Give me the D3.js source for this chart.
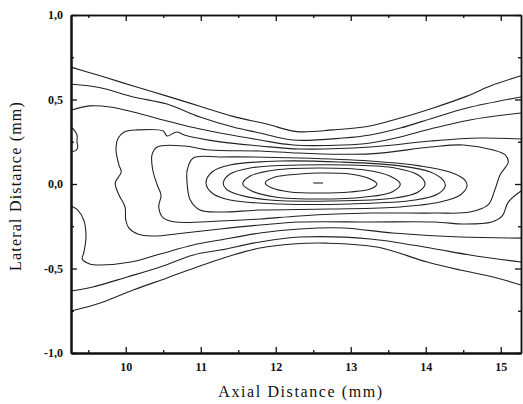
<!DOCTYPE html>
<html>
<head>
<meta charset="utf-8">
<script src="https://cdn.jsdelivr.net/npm/d3@7"></script>
<style>
  body { margin: 0; background: #fff; }
  text { font-family: "Liberation Serif", "Times New Roman", serif; fill: #111; }
</style>
</head>
<body>
<div id="chart"></div>
<script>
// axes
const xDomain = [9.27, 15.27];
const yDomain = [-1, 1];
const xTicks = [10, 11, 12, 13, 14, 15];
const xMinor = [9.5, 10.5, 11.5, 12.5, 13.5, 14.5];
const yTicks = [-1, -0.5, 0, 0.5, 1];
const yMinor = [-0.75, -0.25, 0.25, 0.75];

// contour lines, [axial mm, lateral mm]
const top1 = [[9.28,0.69],[9.66,0.64],[10.10,0.58],[10.55,0.52],[10.99,0.46],[11.43,0.40],[11.88,0.355],[12.28,0.31],[12.76,0.32],[13.22,0.34],[13.66,0.39],[14.10,0.45],[14.55,0.52],[14.86,0.58],[15.27,0.64]];
const top2 = [[9.28,0.59],[9.66,0.57],[10.10,0.515],[10.55,0.473],[10.99,0.396],[11.43,0.337],[11.79,0.302],[12.23,0.26],[12.90,0.272],[13.26,0.29],[13.66,0.331],[14.10,0.391],[14.55,0.45],[15.27,0.515]];
const top3 = [[9.28,0.438],[9.52,0.462],[9.79,0.456],[10.10,0.426],[10.55,0.373],[10.99,0.325],[11.79,0.26],[12.23,0.231],[12.90,0.231],[13.26,0.243],[13.66,0.278],[14.06,0.325],[14.59,0.379],[15.27,0.42]];
const edgeBit = [[9.27,0.337],[9.31,0.32],[9.35,0.29],[9.35,0.249],[9.36,0.219],[9.34,0.201],[9.27,0.189]];
const outer = [[15.27,0.266],[14.72,0.272],[14.06,0.254],[13.26,0.219],[12.32,0.207],[11.79,0.225],[11.26,0.249],[10.78,0.29],[10.68,0.308],[10.55,0.284],[10.50,0.314],[10.15,0.32],[9.98,0.308],[9.90,0.272],[9.87,0.201],[9.91,0.112],[9.94,0.071],[9.86,0.006],[9.91,-0.065],[9.99,-0.136],[10.00,-0.213],[10.04,-0.26],[10.16,-0.296],[10.35,-0.308],[10.78,-0.29],[11.26,-0.266],[11.79,-0.243],[12.32,-0.225],[13.26,-0.225],[14.12,-0.225],[14.52,-0.237],[14.88,-0.225],[15.02,-0.189],[15.10,-0.107],[15.27,-0.041]];
const ring2 = [[10.78,0.225],[10.42,0.219],[10.35,0.172],[10.36,0.083],[10.42,-0.006],[10.47,-0.065],[10.44,-0.136],[10.50,-0.201],[10.66,-0.225],[11.26,-0.219],[11.79,-0.207],[12.32,-0.189],[13.26,-0.172],[14.12,-0.172],[14.59,-0.166],[14.83,-0.124],[14.92,-0.036],[14.99,0.053],[15.10,0.13],[15.06,0.172],[14.90,0.201],[14.50,0.231],[14.06,0.219],[13.26,0.178],[12.32,0.183],[11.79,0.195],[11.12,0.201]];
const ring3 = [[10.82,0.083],[10.90,0.154],[11.26,0.16],[12.32,0.154],[13.26,0.136],[13.92,0.107],[14.32,0.071],[14.52,0.024],[14.55,-0.012],[14.46,-0.065],[14.19,-0.107],[13.66,-0.136],[12.72,-0.148],[11.79,-0.154],[11.26,-0.166],[10.99,-0.154],[10.86,-0.095],[10.82,-0.006]];
const ring4 = [[11.07,0.006],[11.15,0.071],[11.39,0.112],[12.06,0.136],[12.86,0.13],[13.66,0.107],[14.06,0.071],[14.23,0.024],[14.26,-0.012],[14.16,-0.059],[13.86,-0.095],[12.99,-0.118],[12.06,-0.118],[11.39,-0.095],[11.15,-0.053]];
const ring5 = [[11.30,0.006],[11.39,0.059],[11.66,0.095],[12.32,0.112],[12.99,0.112],[13.59,0.095],[13.90,0.053],[13.99,0],[13.90,-0.047],[13.59,-0.083],[12.72,-0.101],[11.92,-0.095],[11.52,-0.065],[11.34,-0.030]];
const ring6 = [[11.56,0],[11.66,0.047],[11.99,0.083],[12.59,0.095],[13.19,0.083],[13.52,0.047],[13.66,0],[13.55,-0.047],[13.19,-0.077],[12.59,-0.089],[11.99,-0.077],[11.68,-0.041]];
const ring7 = [[11.86,0.006],[11.99,0.041],[12.32,0.059],[12.59,0.065],[12.99,0.059],[13.26,0.03],[13.35,0],[13.26,-0.03],[12.99,-0.047],[12.59,-0.053],[12.19,-0.047],[11.95,-0.024]];
const peak = [[12.50,0.006],[12.63,0.006]];
const bot3 = [[9.27,-0.13],[9.36,-0.154],[9.44,-0.213],[9.47,-0.314],[9.44,-0.408],[9.42,-0.444],[9.52,-0.473],[9.66,-0.479],[10.07,-0.462],[10.46,-0.414],[10.90,-0.361],[11.26,-0.331],[11.79,-0.29],[12.32,-0.266],[12.90,-0.26],[13.56,-0.29],[14.46,-0.314],[15.27,-0.32]];
const bot2 = [[9.27,-0.633],[9.56,-0.609],[10.02,-0.55],[10.46,-0.491],[10.90,-0.42],[11.26,-0.391],[11.79,-0.343],[12.32,-0.314],[13.26,-0.325],[14.06,-0.379],[14.59,-0.42],[15.27,-0.462]];
const bot1 = [[9.27,-0.751],[9.66,-0.704],[10.10,-0.627],[10.55,-0.556],[10.99,-0.485],[11.43,-0.42],[11.79,-0.379],[12.23,-0.355],[12.68,-0.35],[13.35,-0.373],[14.02,-0.462],[14.46,-0.509],[14.90,-0.55],[15.27,-0.598]];

const openLines = [top1, top2, top3, edgeBit, outer, bot3, bot2, bot1, peak];
const closedLines = [ring2, ring3, ring4, ring5, ring6, ring7];

const width = 523, height = 404;
const margin = {top: 15, right: 2, bottom: 51, left: 71};

const svg = d3.select("#chart").append("svg")
  .attr("width", width)
  .attr("height", height)
  .style("display", "block");

svg.append("rect").attr("width", width).attr("height", height).attr("fill", "#fff");

const x = d3.scaleLinear().domain(xDomain).range([margin.left, width - margin.right]);
const y = d3.scaleLinear().domain(yDomain).range([height - margin.bottom, margin.top]);

// comma decimals like the original
const locale = d3.formatLocale({decimal: ",", thousands: ".", grouping: [3], currency: ["", ""], minus: "-"});
const fmt = locale.format(".1f");

// contours
const g = svg.append("g")
  .attr("fill", "none")
  .attr("stroke", "#222")
  .attr("stroke-width", 1.1)
  .attr("stroke-linejoin", "round");

const openLine = d3.line().x(d => x(d[0])).y(d => y(d[1])).curve(d3.curveCatmullRom.alpha(0.5));
const closedLine = d3.line().x(d => x(d[0])).y(d => y(d[1])).curve(d3.curveCatmullRomClosed.alpha(0.5));

g.selectAll("path.open").data(openLines).join("path").attr("class", "open").attr("d", openLine);
g.selectAll("path.closed").data(closedLines).join("path").attr("class", "closed").attr("d", closedLine);

// axes, ticks inside
const axisGroup = svg.append("g");
function addAxis(axis, transform, width) {
  const a = axisGroup.append("g").attr("transform", transform).call(axis);
  a.select(".domain").attr("stroke", "#111").attr("stroke-width", width);
  a.selectAll(".tick line").attr("stroke", "#111").attr("stroke-width", 1.3);
  return a;
}

addAxis(d3.axisBottom(x).tickValues(xTicks).tickSize(-6).tickSizeOuter(0).tickPadding(9).tickFormat(d3.format("d")),
  `translate(0,${y(-1)})`, 2);
addAxis(d3.axisBottom(x).tickValues(xMinor).tickSize(-3).tickSizeOuter(0).tickFormat(""), `translate(0,${y(-1)})`, 2);
addAxis(d3.axisTop(x).tickValues(xTicks).tickSize(-6).tickSizeOuter(0).tickFormat(""), `translate(0,${y(1)})`, 1.5);
addAxis(d3.axisTop(x).tickValues(xMinor).tickSize(-3).tickSizeOuter(0).tickFormat(""), `translate(0,${y(1)})`, 1.5);

addAxis(d3.axisLeft(y).tickValues(yTicks).tickSize(-6).tickSizeOuter(0).tickPadding(8).tickFormat(fmt),
  `translate(${x(xDomain[0])},0)`, 2);
addAxis(d3.axisLeft(y).tickValues(yMinor).tickSize(-3).tickSizeOuter(0).tickFormat(""), `translate(${x(xDomain[0])},0)`, 2);
addAxis(d3.axisRight(y).tickValues(yTicks).tickSize(-6).tickSizeOuter(0).tickFormat(""), `translate(${x(xDomain[1])},0)`, 1.5);
addAxis(d3.axisRight(y).tickValues(yMinor).tickSize(-3).tickSizeOuter(0).tickFormat(""), `translate(${x(xDomain[1])},0)`, 1.5);

axisGroup.selectAll(".tick text")
  .style("font-family", "'Liberation Serif', serif")
  .style("font-size", "12px")
  .style("font-weight", "bold")
  .attr("fill", "#222");

// axis titles
svg.append("text")
  .attr("x", 301)
  .attr("y", 397)
  .attr("text-anchor", "middle")
  .style("font-size", "16px")
  .style("letter-spacing", "1.6px")
  .text("Axial Distance (mm)");

svg.append("text")
  .attr("transform", `translate(21,${y(0) + 2}) rotate(-90)`)
  .attr("text-anchor", "middle")
  .style("font-size", "16px")
  .style("letter-spacing", "1.2px")
  .text("Lateral Distance (mm)");
</script>
</body>
</html>
